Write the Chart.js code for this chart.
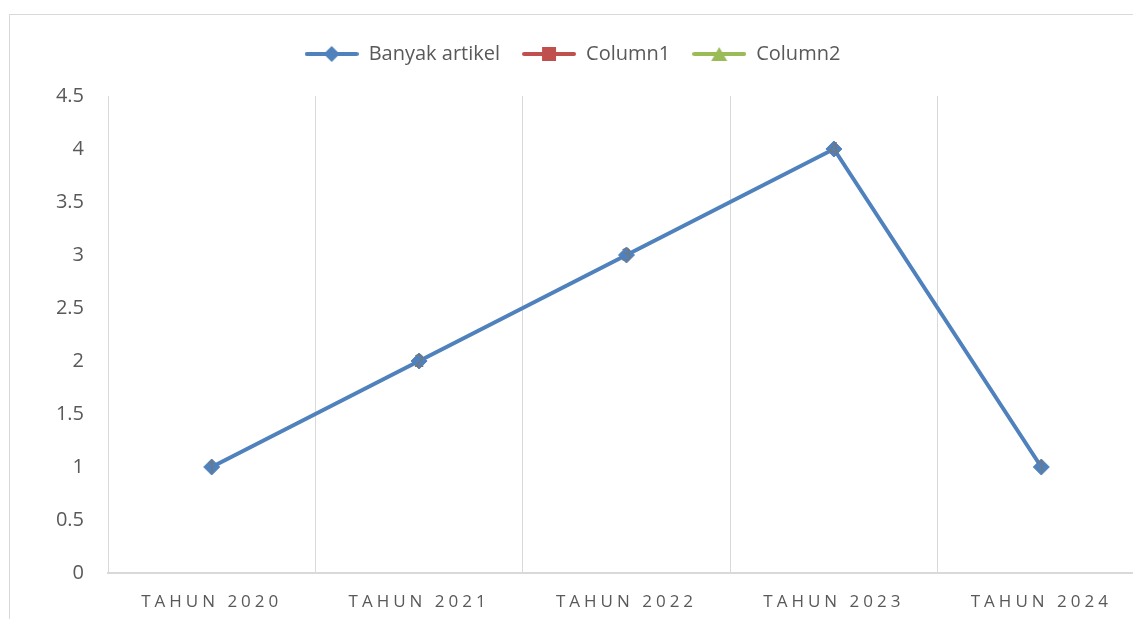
<!DOCTYPE html>
<html>
<head>
<meta charset="utf-8">
<script src="https://cdn.jsdelivr.net/npm/chart.js@4.4.1/dist/chart.umd.min.js"></script>
<style>
html, body { margin: 0; padding: 0; background: #fff; overflow: hidden; width: 1133px; height: 619px; }
#frame { position: absolute; left: 9px; top: 14px; width: 1400px; height: 900px; border: 1px solid #d9d9d9; }
#wrap { position: absolute; left: 0; top: 0; }
</style>
</head>
<body>
<div id="frame"></div>
<div id="wrap"><canvas id="myChart" width="1160" height="640"></canvas></div>
<script>
var years = ["TAHUN 2020", "TAHUN 2021", "TAHUN 2022", "TAHUN 2023", "TAHUN 2024"];
var banyakArtikel = [1, 2, 3, 4, 1];
var column1 = [null, null, null, null, null];
var column2 = [null, null, null, null, null];
var yTicks = [0, 0.5, 1, 1.5, 2, 2.5, 3, 3.5, 4, 4.5];

var blue = "#4f81bd", red = "#c0504d", green = "#9bbb59";
var textGrey = "#595959";
var FONT = "'Open Sans', 'Liberation Sans', sans-serif";

// x labels are spaced out like the Excel original
class SpacedCategory extends Chart.CategoryScale {
  drawLabels(area) {
    this.ctx.save();
    this.ctx.letterSpacing = "4px";
    super.drawLabels(area);
    this.ctx.restore();
  }
}
SpacedCategory.id = "spacedCategory";
SpacedCategory.defaults = Chart.CategoryScale.defaults;
Chart.register(SpacedCategory);

function legendIcon(color, shape) {
  var c = document.createElement("canvas");
  c.width = 54; c.height = 18;
  var g = c.getContext("2d");
  g.strokeStyle = color; g.lineWidth = 4; g.lineCap = "round";
  g.beginPath(); g.moveTo(2, 9); g.lineTo(52, 9); g.stroke();
  g.fillStyle = color;
  g.beginPath();
  if (shape == "diamond") {
    g.moveTo(27, 1); g.lineTo(35, 9); g.lineTo(27, 17); g.lineTo(19, 9);
  } else if (shape == "square") {
    g.rect(20, 2, 14, 14);
  } else {
    g.moveTo(27, 2); g.lineTo(35, 16); g.lineTo(19, 16);
  }
  g.closePath(); g.fill();
  return c;
}
var icons = [legendIcon(blue, "diamond"), legendIcon(red, "square"), legendIcon(green, "triangle")];

// extra gap under the legend
var legendGap = {
  id: "legendGap",
  beforeLayout: function(chart) {
    var lg = chart.legend;
    if (lg && !lg._gapDone) {
      var fit = lg.fit;
      lg.fit = function() { fit.call(this); this.height += 22; };
      lg._gapDone = true;
    }
  }
};

var dataLabels = {
  id: "dataLabels",
  afterDatasetsDraw: function(chart) {
    var ctx = chart.ctx;
    ctx.save();
    ctx.font = "18px " + FONT;
    ctx.fillStyle = "#767676";
    ctx.textAlign = "center";
    ctx.textBaseline = "middle";
    chart.getDatasetMeta(0).data.forEach(function(pt, i) {
      ctx.fillText(String(banyakArtikel[i]), pt.x, pt.y + 1);
    });
    ctx.restore();
  }
};

new Chart("myChart", {
  type: "line",
  data: {
    labels: years,
    datasets: [
      { label: "Banyak artikel", data: banyakArtikel, borderColor: blue, backgroundColor: blue,
        borderWidth: 4, pointStyle: "rectRot", pointRadius: 8, pointBorderWidth: 1, tension: 0 },
      { label: "Column1", data: column1, borderColor: red, backgroundColor: red,
        borderWidth: 4, pointStyle: "rect", pointRadius: 6 },
      { label: "Column2", data: column2, borderColor: green, backgroundColor: green,
        borderWidth: 4, pointStyle: "triangle", pointRadius: 6 }
    ]
  },
  options: {
    responsive: false,
    animation: false,
    layout: { padding: { top: 22, right: 15, left: 0, bottom: 0 } },
    plugins: {
      tooltip: { enabled: false },
      legend: {
        position: "top",
        labels: {
          usePointStyle: true,
          pointStyleWidth: 54,
          padding: 22,
          color: textGrey,
          font: { family: FONT, size: 20 },
          generateLabels: function(chart) {
            var items = Chart.defaults.plugins.legend.labels.generateLabels(chart);
            items.forEach(function(it, i) { it.pointStyle = icons[i]; });
            return items;
          }
        }
      }
    },
    scales: {
      x: {
        type: "spacedCategory",
        offset: true,
        grid: { offset: true, display: true, color: "#d9d9d9", lineWidth: 1, drawTicks: false },
        border: { display: true, color: "#d9d9d9", width: 2 },
        ticks: { color: textGrey, font: { family: FONT, size: 17 }, padding: 19, maxRotation: 0 },
        afterFit: function(s) { s.height = 640 - 573; }
      },
      y: {
        min: 0, max: 4.5,
        afterBuildTicks: function(s) { s.ticks = yTicks.map(function(v) { return { value: v }; }); },
        grid: { display: false },
        border: { display: false },
        ticks: { color: textGrey, font: { family: FONT, size: 20 }, padding: 16,
                 callback: function(v) { return String(v); } },
        afterFit: function(s) { s.width = 108; }
      }
    }
  },
  plugins: [legendGap, dataLabels]
});
</script>
</body>
</html>
